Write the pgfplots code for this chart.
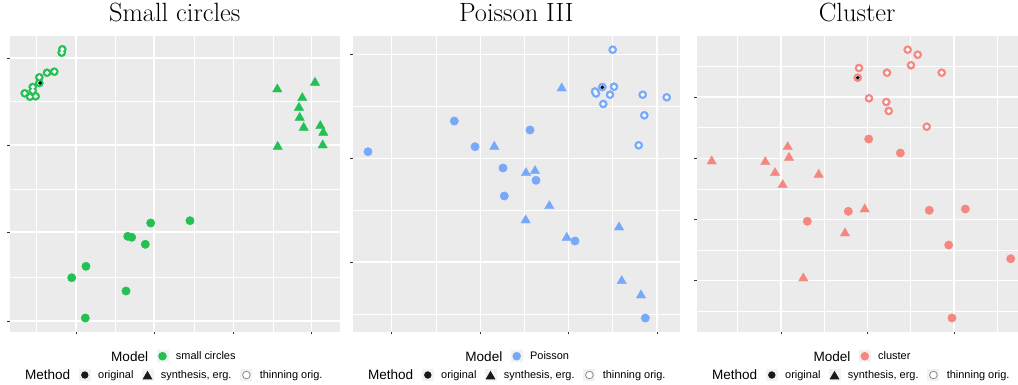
\documentclass[border=0pt]{standalone}
\usepackage{pgfplots}
\usepackage{pgfplotstable}
\pgfplotsset{compat=1.18}
\usepackage{fontspec}
\newfontfamily\sansf{Liberation Sans}
\definecolor{bgcol}{HTML}{EBEBEB}
\definecolor{keybg}{HTML}{F2F2F2}
\definecolor{tickcol}{HTML}{333333}
\definecolor{cgreen}{HTML}{23C153}
\definecolor{cblue}{HTML}{76A8FC}
\definecolor{cred}{HTML}{F68780}
\definecolor{ringgray}{HTML}{8C8C8C}

\pgfplotstableread{
x y
62.3 -49.3
61.7 -52.7
54.3 -71.7
47 -72.7
39.3 -77.3
39.3 -83
32.7 -87
32.7 -90.7
24.7 -93.3
30 -96.7
35.7 -96.3
}\thinA
\pgfplotstableread{
x y
612.7 -49.7
614 -86.7
602.3 -87
595 -91.5
596 -93.5
610 -94.7
603.3 -104
642.7 -94.7
666.7 -97.3
644.3 -115.3
638.7 -145.3
}\thinB
\pgfplotstableread{
x y
907.7 -49.7
917.7 -54.7
911 -65.3
859 -68
887 -72.7
941.7 -72.7
857.7 -77.7
869 -98.3
886.3 -102
888.7 -111
926.7 -126.7
}\thinC

\pgfplotsset{
  panel/.style={
    scale only axis,
    height=295.7bp,
    enlargelimits=false,
    axis background/.style={fill=bgcol},
    axis lines*=left,
    axis line style={draw=none},
    grid=both,
    major grid style={white, line width=1.1bp},
    minor grid style={white, line width=0.55bp},
    xticklabels={}, yticklabels={},
    tick align=outside,
    major tick length=2.7bp,
    minor tick length=0pt,
    every tick/.style={tickcol, line width=0.55bp},
    title style={font=\fontsize{26.5}{30}\selectfont, anchor=base, at={(0.5,1)}, yshift=8.7bp},
  },
  origm/.style={only marks, color=#1, mark=*, mark size=4.2bp, mark options={solid, fill=#1}},
  synthm/.style={only marks, color=#1, mark=triangle*, mark size=5.4bp, mark options={solid, fill=#1}},
  ringout/.style={only marks, color=#1, mark=*, mark size=4.1bp, mark options={solid, fill=#1}},
  ringin/.style={only marks, color=white, mark=*, mark size=1.9bp, mark options={solid, fill=white}},
  bdotm/.style={only marks, color=black, mark=*, mark size=1.6bp, mark options={solid, fill=black}},
}

\newcommand{\legendblock}[4]{%
  \node[anchor=base west, inner sep=0pt, font=\sansf\fontsize{13.6}{15}\selectfont] at (#1bp-51.5bp,-361.7bp) {Model};
  \fill[keybg] (#1bp-6bp,-350.2bp) rectangle (#1bp+6bp,-362.2bp);
  \fill[#3] (#1bp,-356.2bp) circle[radius=4.3bp];
  \node[anchor=base west, inner sep=0pt, font=\sansf\fontsize{11}{13}\selectfont] at (#1bp+13.2bp,-359.8bp) {#4};
  \node[anchor=base west, inner sep=0pt, font=\sansf\fontsize{13.6}{15}\selectfont] at (#2bp-60bp,-379.7bp) {Method};
  \fill[keybg] (#2bp-6bp,-369bp) rectangle (#2bp+6bp,-381bp);
  \fill[black!90] (#2bp,-375bp) circle[radius=3.7bp];
  \node[anchor=base west, inner sep=0pt, font=\sansf\fontsize{11}{13}\selectfont] at (#2bp+13.2bp,-378.6bp) {original};
  \fill[keybg] (#2bp+62.7bp-6bp,-369bp) rectangle (#2bp+62.7bp+6bp,-381bp);
  \fill[black!90] (#2bp+62.7bp,-370.8bp) -- (#2bp+62.7bp-5bp,-379.4bp) -- (#2bp+62.7bp+5bp,-379.4bp) -- cycle;
  \node[anchor=base west, inner sep=0pt, font=\sansf\fontsize{11}{13}\selectfont] at (#2bp+62.7bp+13.2bp,-378.6bp) {synthesis, erg.};
  \fill[keybg] (#2bp+161.6bp-6bp,-369bp) rectangle (#2bp+161.6bp+6bp,-381bp);
  \draw[ringgray, fill=white, line width=0.8bp] (#2bp+161.6bp,-375bp) circle[radius=3.8bp];
  \node[anchor=base west, inner sep=0pt, font=\sansf\fontsize{11}{13}\selectfont] at (#2bp+161.6bp+13.2bp,-378.6bp) {thinning orig.};
}

\begin{document}
\begin{tikzpicture}
\path[use as bounding box] (0,0) rectangle (1018bp,-385bp);

% ---------------- Panel 1: Small circles ----------------
\begin{axis}[panel, at={(10bp,-331.7bp)}, anchor=south west,
  width=329.5bp,
  xmin=10, xmax=339.5, ymin=-331.7, ymax=-36,
  xtick={76,154,233.3,311.7}, minor xtick={36,115,194,273},
  ytick={-321,-232,-145,-58}, minor ytick={-277,-189,-101},
  title={Small circles}]
\addplot[origm=cgreen] coordinates {
 (150.7,-223) (190,-220.7) (127.7,-236.3) (131.7,-237.3) (145.3,-244.3)
 (86,-266.3) (71.7,-277.7) (126,-291) (85.3,-318)};
\addplot[synthm=cgreen] coordinates {
 (277.3,-89.3) (315,-82.7) (302.3,-98) (299,-107.7) (299.7,-117.7)
 (303.7,-127.7) (320.3,-126) (323.3,-132.7) (277.7,-146.7) (322.7,-145.3)};
\addplot[ringout=cgreen] table {\thinA};
\addplot[ringin] table {\thinA};
\addplot[bdotm] coordinates {(40,-83)};
\end{axis}

% ---------------- Panel 2: Poisson III ----------------
\begin{axis}[panel, at={(352.7bp,-331.7bp)}, anchor=south west,
  width=327.3bp,
  xmin=352.7, xmax=680, ymin=-331.7, ymax=-36,
  xtick={391.7,480.7,568.7,657}, minor xtick={436.7,524.3,612.7},
  ytick={-262,-158.3,-54.3}, minor ytick={-314.3,-210,-106},
  title={Poisson III}]
\addplot[origm=cblue] coordinates {
 (368,-151.7) (454.3,-121) (475,-146.7) (530,-130) (503,-168)
 (536,-180.3) (504.3,-196) (575,-241) (645.3,-318)};
\addplot[synthm=cblue] coordinates {
 (561.7,-88.3) (494.3,-146.7) (526,-173) (535,-171) (549.3,-206)
 (525.7,-220.3) (566.7,-237.7) (619,-227.3) (621.7,-281) (641,-295.3)};
\addplot[ringout=cblue] table {\thinB};
\addplot[ringin] table {\thinB};
\addplot[bdotm] coordinates {(602.3,-87.3)};
\end{axis}

% ---------------- Panel 3: Cluster ----------------
\begin{axis}[panel, at={(696.7bp,-331.7bp)}, anchor=south west,
  width=320.8bp,
  xmin=696.7, xmax=1017.5, ymin=-331.7, ymax=-36,
  xtick={781,867.7,954}, minor xtick={737.7,824.3,910.7,997.3},
  ytick={-280.7,-219.3,-158.3,-97,-35.7}, minor ytick={-311,-250,-189,-127.7,-66.3},
  title={Cluster}]
\addplot[origm=cred] coordinates {
 (868.7,-139) (900.3,-153) (807.3,-221.3) (848.3,-211.3) (929.3,-210.3)
 (965.3,-209) (948.7,-245) (1010.7,-258.7) (952,-318)};
\addplot[synthm=cred] coordinates {
 (711.7,-161.3) (765.3,-162) (787.7,-147) (789,-157.7) (775,-173)
 (782.7,-185) (818.7,-174.7) (864.7,-209.3) (845,-233.3) (803.3,-278.3)};
\addplot[ringout=cred] table {\thinC};
\addplot[ringin] table {\thinC};
\addplot[bdotm] coordinates {(857.7,-77.7)};
\end{axis}

\legendblock{162.5}{84.8}{cgreen}{small circles}
\legendblock{516.7}{427.8}{cblue}{Poisson}
\legendblock{864.8}{771.8}{cred}{cluster}
\end{tikzpicture}
\end{document}
